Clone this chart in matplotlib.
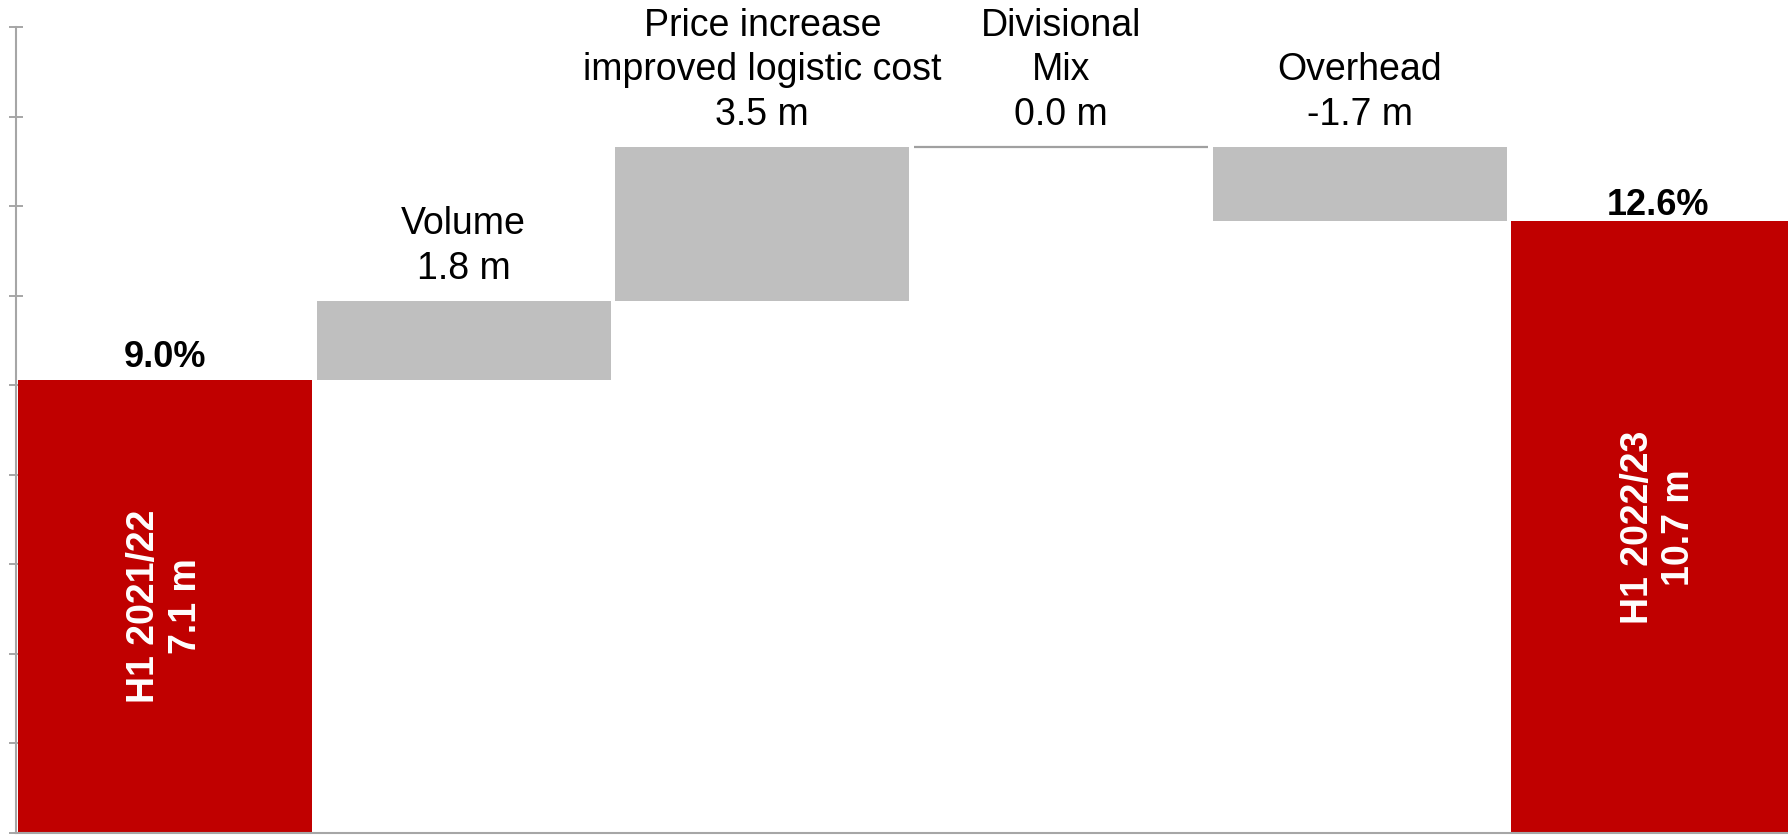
import numpy as np
import matplotlib
matplotlib.use("Agg")
import matplotlib.pyplot as plt

plt.rcParams['font.family'] = ['Liberation Sans', 'DejaVu Sans']

# ---- data -------------------------------------------------------
start_label = "H1 2021/22"
start_value = 7.1          # m
start_margin = "9.0%"

step_names = ["Volume", "Price increase\nimproved logistic cost", "Divisional\nMix", "Overhead"]
step_values = [1.8, 3.5, 0.0, -1.7]   # m

end_label = "H1 2022/23"
end_value = 10.7           # m
end_margin = "12.6%"

RED = '#c00000'
GREY = '#bfbfbf'
AXIS = '#a6a6a6'

# ---- figure -----------------------------------------------------
W, H = 1788, 835
fig = plt.figure(figsize=(W / 100, H / 100), dpi=100)
ax = fig.add_axes([15.5 / W, 2 / H, (W - 15.5) / W, 806 / H])

y_min, y_max = -3.2, 15.12
bar_w = 0.984

# totals
n = len(step_values) + 2
x_end = n - 1
ax.bar(0, start_value - y_min, bottom=y_min, width=bar_w, color=RED, zorder=2)
ax.bar(x_end, end_value - y_min, bottom=y_min, width=bar_w, color=RED, zorder=2)

# waterfall steps
level = start_value
for i, (name, v) in enumerate(zip(step_names, step_values), start=1):
    lo, hi = min(level, level + v), max(level, level + v)
    if v == 0:
        ax.hlines(level, i - bar_w / 2, i + bar_w / 2, color='#a0a0a0', lw=1.6, zorder=2)
    else:
        ax.bar(i, hi - lo, bottom=lo, width=bar_w, color=GREY, zorder=2)
    ax.annotate(f"{name}\n{v:.1f} m", (i, hi), xytext=(0, 10), textcoords='offset points',
                ha='center', va='bottom', fontsize=27, linespacing=1.3)
    level += v

# labels on totals
for x, val, lab, pct, off in [(0, start_value, start_label, start_margin, 9),
                              (x_end, end_value, end_label, end_margin, 5)]:
    ax.annotate(pct, (x, val), xytext=(0, off), textcoords='offset points',
                ha='center', va='baseline', fontsize=26, fontweight='bold')
    ax.text(x, (val + y_min) / 2, f"{lab}\n{val:.1f} m", rotation=90, ha='center',
            va='center', color='white', fontsize=27, fontweight='bold', linespacing=1.2)

ax.set_xlim(-0.5, (W - 15.5) / 298.7 - 0.5)
ax.set_ylim(y_min, y_max)
ax.set_yticks(np.linspace(y_min, y_max, 10))
ax.set_yticklabels([])
ax.set_xticks([])
ax.tick_params(axis='y', direction='inout', length=10, width=1.4, color=AXIS)
for s in ['top', 'right']:
    ax.spines[s].set_visible(False)
for s in ['left', 'bottom']:
    ax.spines[s].set_color(AXIS)
    ax.spines[s].set_linewidth(1.5)
    ax.spines[s].set_zorder(3)

fig.savefig('out.png', dpi=100)
